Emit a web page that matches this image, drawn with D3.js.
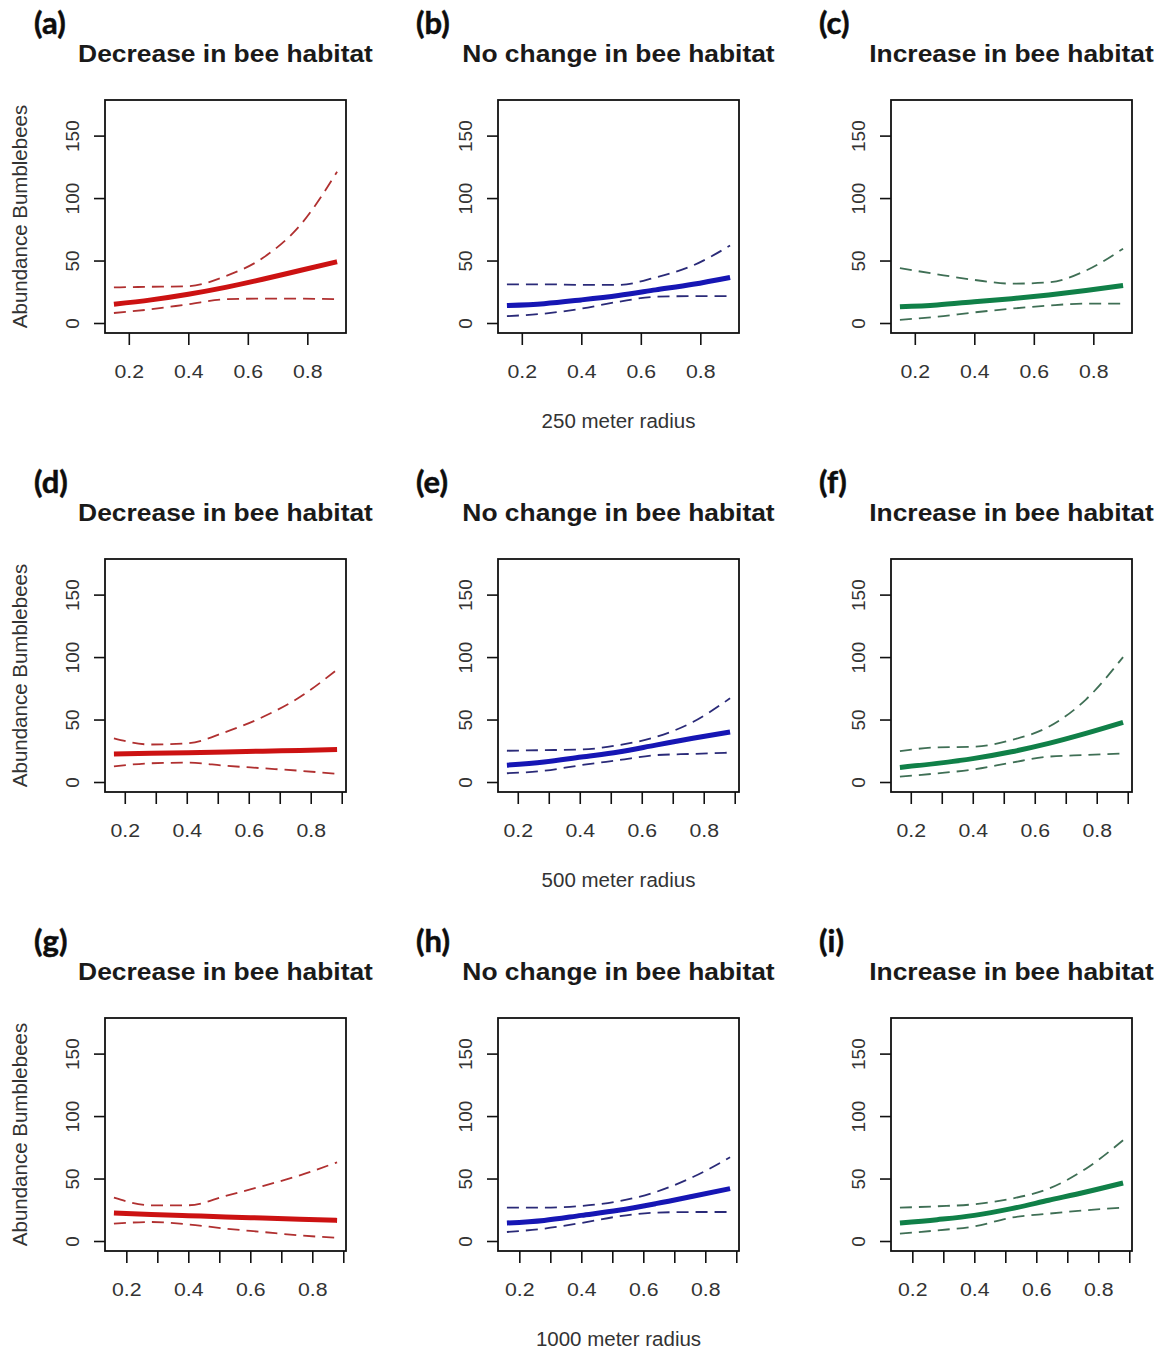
<!DOCTYPE html>
<html>
<head>
<meta charset="utf-8">
<script src="https://cdn.jsdelivr.net/npm/d3@7"></script>
<style>
  html, body { margin: 0; padding: 0; background: #fff; }
  svg { display: block; }
</style>
</head>
<body>
<svg id="chart" width="1163" height="1350"></svg>
<script>
// ---------- DATA ----------
const panelLetters = ["(a)","(b)","(c)","(d)","(e)","(f)","(g)","(h)","(i)"];
const panelTitles = ["Decrease in bee habitat","No change in bee habitat","Increase in bee habitat"];
const radiusLabels = ["250 meter radius","500 meter radius","1000 meter radius"];
const yAxisTitle = "Abundance Bumblebees";
const yTicks = [0, 50, 100, 150];
const xTickLabels = ["0.2","0.4","0.6","0.8"];

// x positions (proportion of landscape) of the read-off points, per panel
const xA = [0.15, 0.275, 0.40, 0.525, 0.65, 0.775, 0.90];
const xB = [0.15, 0.275, 0.40, 0.525, 0.65, 0.775, 0.90];
const xC = [0.15, 0.275, 0.40, 0.525, 0.65, 0.775, 0.90];
const xD = [0.165, 0.285, 0.405, 0.525, 0.645, 0.765, 0.885];
const xE = [0.165, 0.285, 0.405, 0.525, 0.645, 0.765, 0.885];
const xF = [0.165, 0.285, 0.405, 0.525, 0.645, 0.765, 0.885];
const xG = [0.16, 0.28, 0.40, 0.52, 0.64, 0.76, 0.88];
const xH = [0.16, 0.28, 0.40, 0.52, 0.64, 0.76, 0.88];
const xI = [0.16, 0.28, 0.40, 0.52, 0.64, 0.76, 0.88];

// fitted abundance (solid), lower and upper confidence bounds (dashed)
const fitA = [15, 18.5, 23, 28.5, 35, 42, 49];
const lowA = [8, 11, 15, 19, 19.5, 19.5, 19];
const uppA = [28.5, 29, 29.5, 37.5, 52, 78, 121];

const fitB = [14, 15.5, 18.5, 22, 26.5, 31, 36.5];
const lowB = [5.5, 7.5, 11.5, 17, 21, 21.5, 21.5];
const uppB = [31, 31, 30.5, 30.5, 36.5, 46, 62];

const fitC = [13, 14.5, 17, 19.5, 22.5, 26, 30];
const lowC = [2.5, 5, 8.5, 11.5, 14, 15.5, 15.5];
const uppC = [44, 39, 34.5, 31.5, 32.5, 42, 59.5];

const fitD = [22.5, 23, 23.5, 24, 24.7, 25.3, 26];
const lowD = [12.5, 15, 15.5, 13, 11, 9, 6.5];
const uppD = [35, 30, 31, 40, 52, 68, 90];

const fitE = [13.5, 16, 20, 24, 29.5, 35, 40];
const lowE = [7, 9, 13.5, 17.5, 21.5, 22.5, 23.5];
const uppE = [25, 25.5, 26, 29.5, 36, 48, 67];

const fitF = [11.7, 14.9, 18.9, 24.2, 30.9, 38.9, 47.7];
const lowF = [4.3, 6.9, 10.1, 15.5, 20.3, 21.6, 22.9];
const uppF = [24.8, 27.7, 28.2, 33.6, 44.2, 66, 100];

const fitG = [22.5, 21.3, 20.3, 19.3, 18.4, 17.5, 16.5];
const lowG = [13.9, 15.2, 13.3, 9.9, 7.2, 4.5, 2.5];
const uppG = [34.7, 28.6, 28.6, 36, 44, 52.6, 63];

const fitH = [14.4, 16.5, 20.5, 24.6, 29.9, 35.8, 41.9];
const lowH = [7.2, 9.9, 14.4, 19.7, 22.7, 23.2, 23.2];
const uppH = [26.7, 26.7, 28, 31.8, 39.2, 51.2, 67];

const fitI = [14.4, 17.1, 20.5, 25.9, 32.6, 39.2, 46.4];
const lowI = [5.9, 8.5, 11.7, 18.7, 21.9, 24.6, 26.7];
const uppI = [26.7, 27.8, 29.4, 33.9, 41.9, 57.9, 80.6];

const seriesColors = ["#cc1212", "#1616b4", "#108048"];
const dashColors = ["#b03030", "#2a2a78", "#3f6f55"];

// ---------- LAYOUT ----------
const panels = [
  {x: xA, fit: fitA, low: lowA, upp: uppA},
  {x: xB, fit: fitB, low: lowB, upp: uppB},
  {x: xC, fit: fitC, low: lowC, upp: uppC},
  {x: xD, fit: fitD, low: lowD, upp: uppD},
  {x: xE, fit: fitE, low: lowE, upp: uppE},
  {x: xF, fit: fitF, low: lowF, upp: uppF},
  {x: xG, fit: fitG, low: lowG, upp: uppG},
  {x: xH, fit: fitH, low: lowH, upp: uppH},
  {x: xI, fit: fitI, low: lowI, upp: uppI}
];
const colLeft = [105, 498, 891];
const rowTop = [100, 559, 1018];
const letterOffset = [-71, -82, -72];
const boxW = 241, boxH = 233;

const svg = d3.select("#chart");
svg.append("rect").attr("width", 1163).attr("height", 1350).attr("fill", "#fff");

panels.forEach((p, i) => {
  const row = Math.floor(i / 3), col = i % 3;
  const L = colLeft[col], T = rowTop[row];
  const g = svg.append("g").attr("transform", `translate(${L},${T})`);

  const ext = d3.extent(p.x);
  const pad = (ext[1] - ext[0]) * 0.04;
  const x = d3.scaleLinear().domain([ext[0] - pad, ext[1] + pad]).range([0, boxW]);
  const y = d3.scaleLinear().domain([-8, 178.5]).range([boxH, 0]);

  // panel letter
  svg.append("text")
    .attr("x", L + letterOffset[col]).attr("y", T - 66)
    .attr("font-family", "Lato, 'Open Sans', sans-serif")
    .attr("font-weight", "bold").attr("font-size", 31)
    .attr("fill", "#0d0d0d")
    .attr("stroke", "#0d0d0d").attr("stroke-width", 0.5)
    .text(panelLetters[i]);

  // title
  svg.append("text")
    .attr("transform", `translate(${L + boxW / 2},${T - 38}) scale(1.1,1)`)
    .attr("text-anchor", "middle")
    .attr("font-family", "'Liberation Sans', Arial, sans-serif")
    .attr("font-weight", "bold").attr("font-size", 24)
    .attr("fill", "#1a1a1a")
    .text(panelTitles[col]);

  // x axis
  const showMinor = row > 0;
  const tickVals = showMinor ? d3.range(2, 10).map(d => d / 10) : [0.2, 0.4, 0.6, 0.8];
  const xAxis = d3.axisBottom(x).tickValues(tickVals).tickSize(12).tickSizeOuter(0)
    .tickFormat(d => {
      const s = d3.format(".1f")(d);
      return xTickLabels.includes(s) ? s : "";
    });
  const gx = g.append("g").attr("transform", `translate(0,${boxH})`).call(xAxis);
  gx.select(".domain").remove();
  gx.selectAll(".tick line").attr("stroke", "#111").attr("stroke-width", 1.6);
  gx.selectAll(".tick text")
    .attr("font-family", "'Liberation Sans', Arial, sans-serif")
    .attr("font-size", 19).attr("fill", "#333")
    .attr("y", 0).attr("dy", 0)
    .attr("transform", "translate(0,45) scale(1.12,1)");

  // y axis
  const yAxis = d3.axisLeft(y).tickValues(yTicks).tickSize(11).tickSizeOuter(0);
  const gy = g.append("g").call(yAxis);
  gy.select(".domain").remove();
  gy.selectAll(".tick line").attr("stroke", "#111").attr("stroke-width", 1.6);
  gy.selectAll(".tick text")
    .attr("font-family", "'Liberation Sans', Arial, sans-serif")
    .attr("font-size", 19).attr("fill", "#333")
    .attr("x", 0).attr("dy", 0)
    .attr("text-anchor", "middle")
    .attr("transform", "translate(-26,0) rotate(-90)");

  // lines
  const line = d3.line().x((d, k) => x(p.x[k])).y(d => y(d)).curve(d3.curveMonotoneX);
  g.append("path").datum(p.upp).attr("d", line)
    .attr("fill", "none").attr("stroke", dashColors[col])
    .attr("stroke-width", 1.8).attr("stroke-dasharray", "12,7");
  g.append("path").datum(p.low).attr("d", line)
    .attr("fill", "none").attr("stroke", dashColors[col])
    .attr("stroke-width", 1.8).attr("stroke-dasharray", "12,7");
  g.append("path").datum(p.fit).attr("d", line)
    .attr("fill", "none").attr("stroke", seriesColors[col])
    .attr("stroke-width", 5);

  // box
  g.append("rect").attr("x", 0).attr("y", 0).attr("width", boxW).attr("height", boxH)
    .attr("fill", "none").attr("stroke", "#111").attr("stroke-width", 1.8);

  // y axis title (left column)
  if (col === 0) {
    svg.append("text")
      .attr("transform", `translate(${L - 78},${T + boxH / 2}) rotate(-90)`)
      .attr("text-anchor", "middle")
      .attr("font-family", "'Liberation Sans', Arial, sans-serif")
      .attr("font-size", 20.5).attr("fill", "#333")
      .text(yAxisTitle);
  }
  // x axis title (middle column)
  if (col === 1) {
    svg.append("text")
      .attr("x", L + boxW / 2).attr("y", T + boxH + 95)
      .attr("text-anchor", "middle")
      .attr("font-family", "'Liberation Sans', Arial, sans-serif")
      .attr("font-size", 20.5).attr("fill", "#333")
      .text(radiusLabels[row]);
  }
});
</script>
</body>
</html>
